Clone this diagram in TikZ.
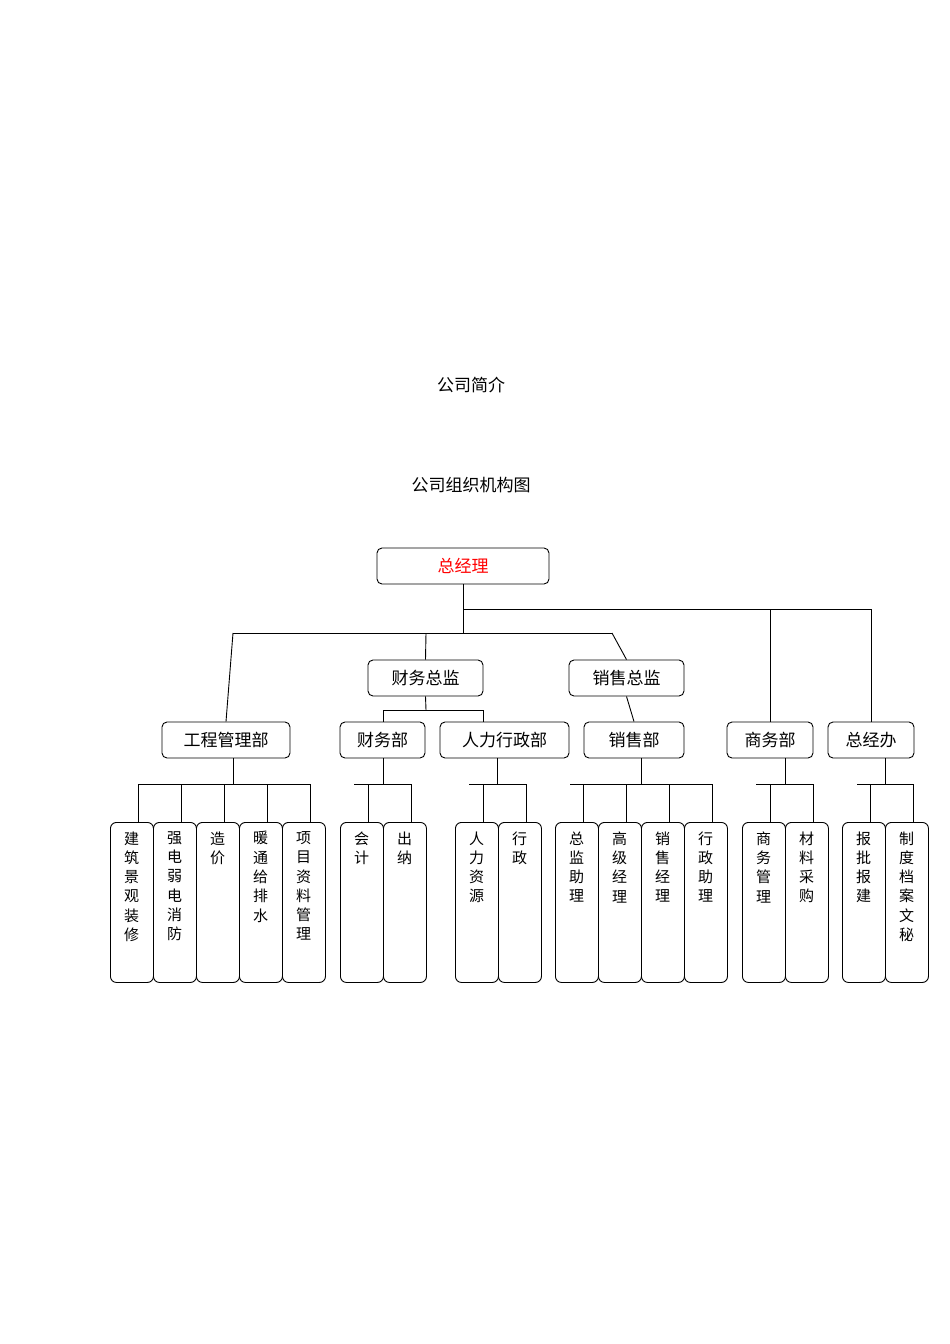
\documentclass[tikz,border=0pt]{standalone}
\usepackage{fontspec}
\setmainfont{Noto Sans CJK SC}
\begin{document}
\begin{tikzpicture}[x=1pt,y=-1pt,line width=0.9pt,
box/.style={draw,rounded corners=5pt,font=\fontsize{17}{19}\selectfont,inner sep=0pt},
leaf/.style={draw,rounded corners=6pt,minimum width=43pt,minimum height=160pt,inner sep=0pt,anchor=north west},
ltxt/.style={anchor=north,font=\fontsize{15}{19.3}\selectfont,align=center,inner sep=0pt}]
\useasboundingbox (0,0) rectangle (950,1344);
\node[font=\fontsize{17}{19}\selectfont] (t1) at (471,385) {公司简介};
\node[font=\fontsize{17}{19}\selectfont] (t2) at (471,485) {公司组织机构图};
\newcommand\bx[6]{\node[box,minimum width=#4-#3,minimum height=36] (#1) at ({(#3+#4)/2},{#5+18}) {#6};}
\bx{gm}{}{377}{549}{548}{\textcolor{red}{总经理}}
\bx{cwzj}{}{368}{483}{660}{财务总监}
\bx{xszj}{}{569}{684}{660}{销售总监}
\bx{gc}{}{162}{290}{722}{工程管理部}
\bx{cw}{}{340}{425}{722}{财务部}
\bx{rl}{}{440}{569}{722}{人力行政部}
\bx{xs}{}{584}{684}{722}{销售部}
\bx{sw}{}{727}{813}{722}{商务部}
\bx{zj}{}{828}{914}{722}{总经办}
\coordinate (a) at (463,609); \coordinate (b) at (463,633);
\draw (gm.south) -- (b);
\draw (a) -| (sw.north); \draw (a) -| (zj.north);
\draw (233,633) -- (612,633);
\draw (233,633) -- (gc.north);
\draw (426,633) -- (cwzj.north);
\draw (612,633) -- (xszj.north);
\draw (cwzj.south) -- (426,710);
\draw (383,710) -- (483,710); \draw (383,710) -- (383,722); \draw (483,710) -- (483,722);
\draw (xszj.south) -- (xs.north);
% leaves: #1 parent x, list
\newcommand\grp[4]{% parent node, parent x, bus left, bus right
\draw (#2,758) -- (#2,784); \draw (#3,784) -- (#4,784);}
\grp{gc}{233}{139}{310}
\grp{cw}{383}{354}{411}
\grp{rl}{497}{469}{526}
\grp{xs}{641}{570}{713}
\grp{sw}{785}{756}{813}
\grp{zj}{885}{857}{913}
\newcommand\lf[3]{\node[leaf] (#1) at (#2,822) {}; \draw (#2+28,784) -- (#2+28,822); \node[ltxt] at (#2+21.5,831) {#3};}
\lf{l1}{110}{建\\筑\\景\\观\\装\\修}
\lf{l2}{153}{强\\电\\弱\\电\\消\\防}
\lf{l3}{196}{造\\价}
\lf{l4}{239}{暖\\通\\给\\排\\水}
\lf{l5}{282}{项\\目\\资\\料\\管\\理}
\lf{l6}{340}{会\\计}
\lf{l7}{383}{出\\纳}
\lf{l8}{455}{人\\力\\资\\源}
\lf{l9}{498}{行\\政}
\lf{l10}{555}{总\\监\\助\\理}
\lf{l11}{598}{高\\级\\经\\理}
\lf{l12}{641}{销\\售\\经\\理}
\lf{l13}{684}{行\\政\\助\\理}
\lf{l14}{742}{商\\务\\管\\理}
\lf{l15}{785}{材\\料\\采\\购}
\lf{l16}{842}{报\\批\\报\\建}
\lf{l17}{885}{制\\度\\档\\案\\文\\秘}
\end{tikzpicture}
\end{document}
